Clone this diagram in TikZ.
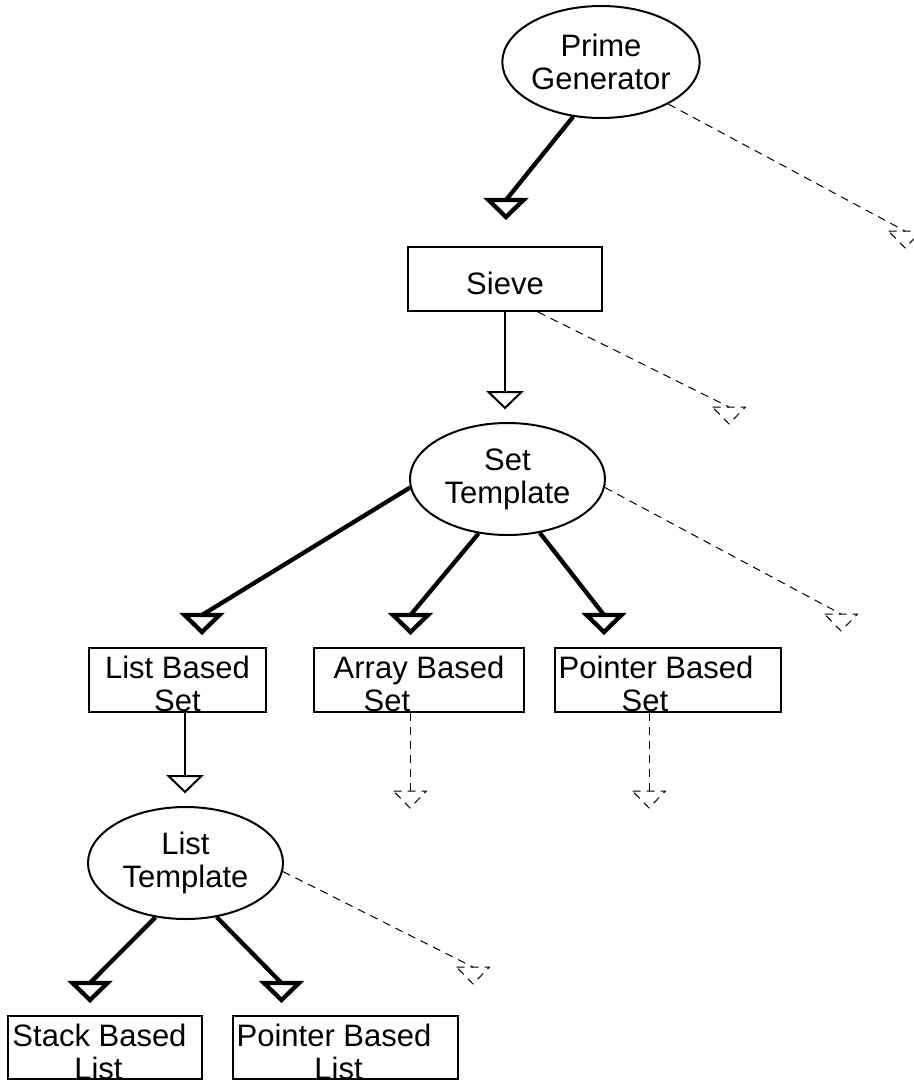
\documentclass[tikz,border=0pt]{standalone}
\usepackage{fontspec}
\setmainfont{Liberation Sans}
\usetikzlibrary{shapes.geometric}
\tikzset{
  every node/.style={font=\fontsize{31pt}{33pt}\selectfont},
  ell/.style={draw, line width=2pt, ellipse, inner sep=0pt, minimum width=195pt, minimum height=112pt, align=center},
  box/.style={draw, line width=2pt, rectangle, inner sep=0pt, minimum width=#1, minimum height=64pt},
  boxtext/.style={inner sep=0pt, align=center, anchor=north},
  thickline/.style={line width=4.3pt},
  thinline/.style={line width=2pt},
  dashline/.style={line width=1pt, dash pattern=on 8pt off 6pt},
  headthick/.pic={\draw[line width=4.3pt] (-17.5,0) -- (17.5,0) -- (0,17) -- cycle;},
  headthin/.pic={\draw[line width=2pt] (-16.5,0) -- (16.5,0) -- (0,16) -- cycle;},
  headdash/.pic={\draw[line width=1pt, dash pattern=on 8pt off 6pt] (-16.5,0) -- (16.5,0) -- (0,17) -- cycle;}
}
\begin{document}
\begin{tikzpicture}[x=1pt,y=-1pt]
\useasboundingbox (0,0) rectangle (913,1081);
% nodes
\node[ell] (pg) at (601,62) {Prime\\Generator};
\node[box=194pt] (sv) at (505,279) {};
\node[boxtext] (svT) at ([yshift=-26pt]sv.north) {Sieve};
\node[ell] (st) at (507.5,479) {Set\\Template};
\node[box=177pt] (lbs) at (177.5,680) {};
\node[boxtext] (lbsT) at ([yshift=-9pt]lbs.north) {List Based\\Set};
\node[box=210pt] (abs) at (419,680) {};
\node[boxtext] (absT) at ([yshift=-9pt]abs.north) {Array Based\\\hspace*{-64pt}Set};
\node[box=226pt] (pbs) at (668,680) {};
\node[boxtext] (pbsT) at ([yshift=-9pt]pbs.north) {\hspace*{-24pt}Pointer Based\\\hspace*{-46pt}Set};
\node[ell] (lt) at (185.5,863) {List\\Template};
\node[box=194pt, minimum height=63pt] (sbl) at (105,1047.5) {};
\node[boxtext] (sblT) at ([yshift=-9pt]sbl.north) {\hspace*{-11pt}Stack Based\\\hspace*{-13pt}List};
\node[box=225pt, minimum height=63pt] (pbl) at (345.5,1047.5) {};
\node[boxtext] (pblT) at ([yshift=-9pt]pbl.north) {\hspace*{-23pt}Pointer Based\\\hspace*{-14pt}List};
% connector ends
\coordinate (e1) at (506,200);
\coordinate (e2) at (905,231);
\coordinate (e3) at (505,392);
\coordinate (e4) at (729,407);
\coordinate (e5) at (202,615);
\coordinate (e6) at (410.5,615);
\coordinate (e7) at (604,615);
\coordinate (e8) at (841,614);
\coordinate (e9) at (185,776);
\coordinate (e10) at (410,791);
\coordinate (e11) at (649,791);
\coordinate (e12) at (90,983);
\coordinate (e13) at (281.5,983);
\coordinate (e14) at (473,967);
% connectors
\draw[thickline] (pg.-117.6) -- (e1); \pic at (e1) {headthick};
\draw[dashline] (pg.-32.7) -- (e2); \pic at (e2) {headdash};
\draw[thinline] (sv.south) -- (e3); \pic at (e3) {headthin};
\draw[dashline] ([xshift=33pt]sv.south) -- (e4); \pic at (e4) {headdash};
\draw[thickline] (st.-175.3) -- (e5); \pic at (e5) {headthick};
\draw[thickline] (st.-118.6) -- (e6); \pic at (e6) {headthick};
\draw[thickline] (st.-59.9) -- (e7); \pic at (e7) {headthick};
\draw[dashline] (st.-5.4) -- (e8); \pic at (e8) {headdash};
\draw[thinline] ([xshift=7.5pt]lbs.south) -- (e9); \pic at (e9) {headthin};
\draw[dashline] ([xshift=-9pt]abs.south) -- (e10); \pic at (e10) {headdash};
\draw[dashline] ([xshift=-19pt]pbs.south) -- (e11); \pic at (e11) {headdash};
\draw[thickline] (lt.-119.8) -- (e12); \pic at (e12) {headthick};
\draw[thickline] (lt.-60.2) -- (e13); \pic at (e13) {headthick};
\draw[dashline] (lt.-5.3) -- (e14); \pic at (e14) {headdash};
\end{tikzpicture}
\end{document}
